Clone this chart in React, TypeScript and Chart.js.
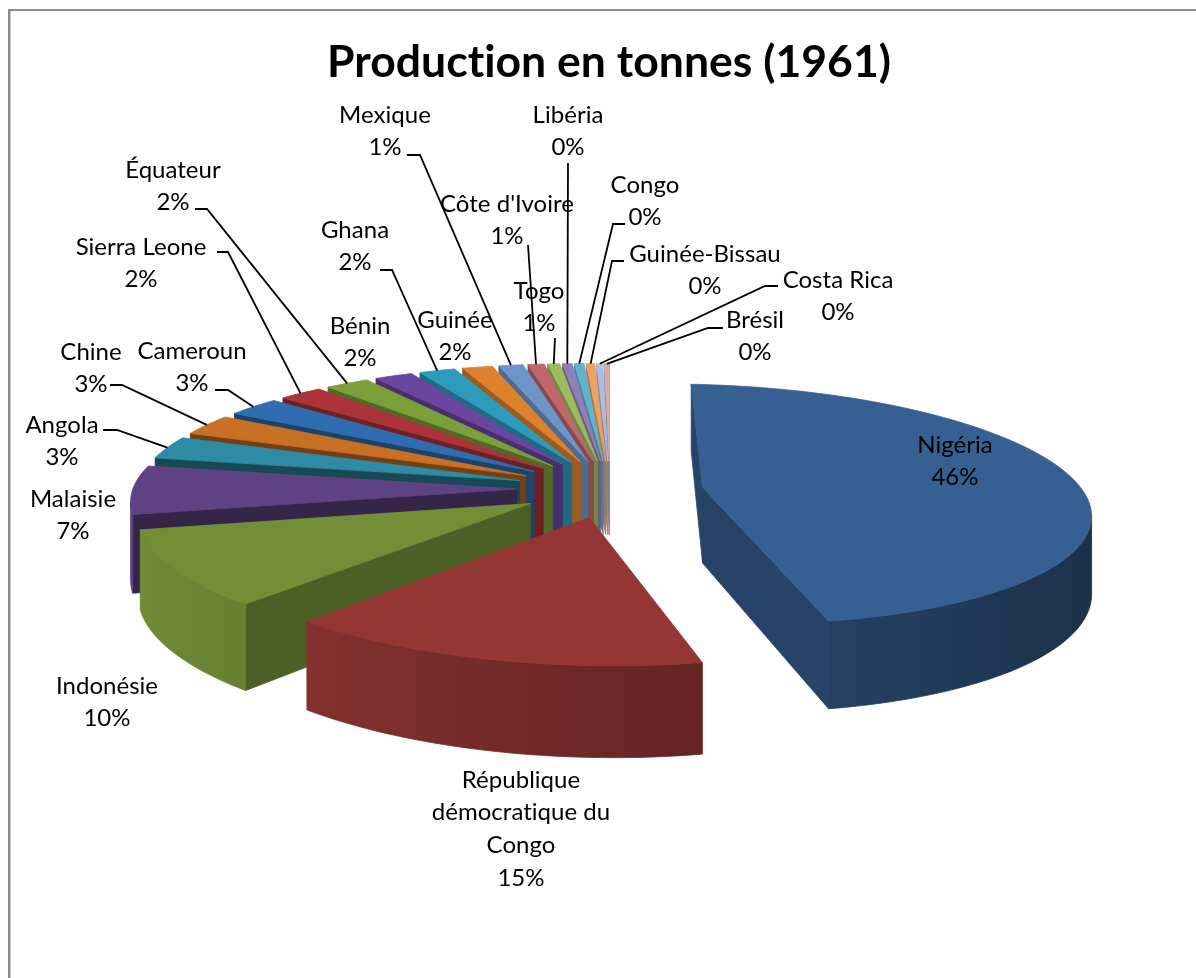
import React, { useEffect, useRef } from "react";
import { Chart, registerables } from "chart.js";

Chart.register(...registerables);

const titleText = "Production en tonnes (1961)";
const categories = ["Nigéria","République démocratique du Congo","Indonésie","Malaisie","Angola","Chine","Cameroun","Sierra Leone","Équateur","Bénin","Ghana","Guinée","Mexique","Côte d'Ivoire","Togo","Libéria","Congo","Guinée-Bissau","Costa Rica","Brésil"];
const shares = [45.8,14.9,9.7,6.5,3.1,2.9,2.7,2.2,2.2,1.9,1.8,1.5,1.2,0.8,0.6,0.47,0.47,0.42,0.3,0.25];
const percentText = ["46%","15%","10%","7%","3%","3%","3%","2%","2%","2%","2%","2%","1%","1%","1%","0%","0%","0%","0%","0%"];
const sliceColors = ["#376092","#933634","#728F38","#5F4283","#2F8AA3","#C87023","#2F6DB0","#AB3339","#7BA03A","#6A469F","#2C9BBC","#DE812C","#6E95C8","#C0676C","#9DBB5E","#8F80B8","#5FB4CC","#F0A060","#A8BFE0","#DBA8A8"];

// label layout in page pixels
const labelLines: string[][] = [["Nigéria"],["République","démocratique du","Congo"],["Indonésie"],["Malaisie"],["Angola"],["Chine"],["Cameroun"],["Sierra Leone"],["Équateur"],["Bénin"],["Ghana"],["Guinée"],["Mexique"],["Côte d'Ivoire"],["Togo"],["Libéria"],["Congo"],["Guinée-Bissau"],["Costa Rica"],["Brésil"]];
const labelAnchors: number[][] = [[955,445],[521,780],[107,686],[73,499],[62,425],[91,352],[192,351],[141,247],[173,170],[360,326],[355,230],[455,320],[385,115],[507,204],[539,291],[568,115],[645,185],[705,254],[838,280],[755,320]];
const leaderElbows: (number[][] | null)[] = [null,null,null,null,
  [[103,430],[117,430]],[[110,385],[122,385]],[[215,390],[228,390]],[[217,252],[228,252]],[[195,209],[207,209]],null,
  [[380,270],[392,270]],null,[[407,155],[420,155]],[[528,245]],[[555,338]],[[568,163]],
  [[625,224],[613,224]],[[624,261],[612,261]],[[778,286],[765,286]],[[723,328],[708,328]]];

// view of the pie plane
const CX = 610, CY = 489, RX = 382, RY = 118, PERSP = 0.14, SIDE = 0.005, SHEAR = 8, DEPTH = 76, EXPLODE = 0.245;

const project = (u: number, v: number, z: number) => {
  const s = 1 / (1 - PERSP * v - SIDE * u);
  return [CX + RX * u * s, CY + (RY * v + DEPTH * z + SHEAR * u) * s];
};

const shade = (hex: string, f: number) => {
  const n = parseInt(hex.slice(1), 16);
  const c = [(n >> 16) & 255, (n >> 8) & 255, n & 255].map((x) => Math.round(Math.min(255, x * f)));
  return `rgb(${c[0]},${c[1]},${c[2]})`;
};

const fillPoly = (ctx: CanvasRenderingContext2D, pts: number[][], color: string | CanvasGradient) => {
  ctx.beginPath();
  pts.forEach((p, i) => (i ? ctx.lineTo(p[0], p[1]) : ctx.moveTo(p[0], p[1])));
  ctx.closePath();
  ctx.fillStyle = color;
  ctx.strokeStyle = color;
  ctx.lineWidth = 0.8;
  ctx.fill();
  ctx.stroke();
};

const area = (p: number[][]) => {
  let a = 0;
  for (let i = 0; i < p.length; i++) {
    const q = p[(i + 1) % p.length];
    a += p[i][0] * q[1] - q[0] * p[i][1];
  }
  return a / 2;
};

const pie3d = {
  id: "pie3d",
  beforeDraw(chart: any) {
    const ctx = chart.ctx;
    (ctx as any).letterSpacing = "0.02px";
    ctx.save();
    ctx.fillStyle = "#8c8c8c";
    ctx.fillRect(8, 9, 2.5, 969);
    ctx.fillRect(8, 9, 1188, 2);
    ctx.restore();
  },
  beforeDatasetDraw() {
    return false;
  },
  afterDatasetsDraw(chart: any) {
    const ctx: CanvasRenderingContext2D = chart.ctx;
    const arcs = chart.getDatasetMeta(0).data;
    const slices = arcs.map((arc: any, i: number) => {
      const a0 = arc.startAngle + Math.PI / 2;
      const a1 = arc.endAngle + Math.PI / 2;
      const mid = (a0 + a1) / 2;
      return { i, a0, a1, mid, ou: Math.sin(mid) * EXPLODE, ov: -Math.cos(mid) * EXPLODE };
    });
    const order = [...slices].sort((a, b) => a.ov - b.ov);
    ctx.save();
    for (const s of order) {
      const col = sliceColors[s.i];
      const n = Math.max(2, Math.ceil((s.a1 - s.a0) / 0.025));
      const rim: number[][] = [];
      for (let k = 0; k <= n; k++) {
        const a = s.a0 + ((s.a1 - s.a0) * k) / n;
        rim.push([s.ou + Math.sin(a), s.ov - Math.cos(a)]);
      }
      const apex = [s.ou, s.ov];
      const quadOf = (a: number[], b: number[]) => [project(a[0], a[1], 0), project(b[0], b[1], 0), project(b[0], b[1], 1), project(a[0], a[1], 1)];
      const radial = (a: number[], b: number[]) => {
        const quad = quadOf(a, b);
        if (area(quad) >= 0) return;
        const nu = (b[1] - a[1]) / (Math.hypot(b[0] - a[0], b[1] - a[1]) || 1);
        fillPoly(ctx, quad, shade(col, 0.5 + 0.22 * Math.abs(nu)));
      };
      radial(rim[rim.length - 1], apex);
      radial(apex, rim[0]);

      // the curved wall: runs of viewer-facing segments, one smooth gradient per run
      let run: { p: number[]; f: number }[] = [];
      const flush = () => {
        if (run.length > 1) {
          const tops = run.map((r) => project(r.p[0], r.p[1], 0));
          const bots = run.map((r) => project(r.p[0], r.p[1], 1));
          const x0 = tops[0][0], x1 = tops[tops.length - 1][0];
          const g = ctx.createLinearGradient(x0, 0, x1, 0);
          run.forEach((r, idx) => {
            const t = Math.abs(x1 - x0) < 1e-6 ? idx / (run.length - 1) : (tops[idx][0] - x0) / (x1 - x0);
            g.addColorStop(Math.max(0, Math.min(1, t)), shade(col, r.f));
          });
          fillPoly(ctx, [...tops, ...bots.reverse()], g);
        }
        run = [];
      };
      for (let k = 0; k < n; k++) {
        const a = rim[k], b = rim[k + 1];
        if (area(quadOf(a, b)) < 0) {
          const nu = (b[1] - a[1]) / (Math.hypot(b[0] - a[0], b[1] - a[1]) || 1);
          const f = 0.74 - 0.25 * nu;
          if (!run.length) run.push({ p: a, f });
          run.push({ p: b, f });
        } else flush();
      }
      flush();

      const top = [apex, ...rim].map((p) => project(p[0], p[1], 0));
      fillPoly(ctx, top, col);
    }

    // leaders and labels
    ctx.strokeStyle = "#000";
    ctx.lineWidth = 1.8;
    slices.forEach((s: any) => {
      const elbows = leaderElbows[s.i];
      if (!elbows) return;
      const end = project(s.ou + Math.sin(s.mid), s.ov - Math.cos(s.mid), 0);
      ctx.beginPath();
      elbows.forEach((p, i) => (i ? ctx.lineTo(p[0], p[1]) : ctx.moveTo(p[0], p[1])));
      ctx.lineTo(end[0], end[1]);
      ctx.stroke();
    });
    ctx.fillStyle = "#000";
    ctx.font = "24px Lato";
    ctx.textAlign = "center";
    ctx.textBaseline = "middle";
    labelLines.forEach((lines, i) => {
      const [x, y0] = labelAnchors[i];
      const all = [...lines, percentText[i]];
      all.forEach((t, k) => ctx.fillText(t, x, y0 + k * 32.7));
    });
    ctx.restore();
  },
};

export default function App() {
  const ref = useRef<HTMLCanvasElement>(null);
  useEffect(() => {
    const chart = new Chart(ref.current!, {
      type: "pie",
      data: {
        labels: categories,
        datasets: [{ data: shares, backgroundColor: sliceColors, borderWidth: 0 }],
      },
      options: {
        responsive: false,
        animation: false,
        layout: { padding: { left: 22, top: 36 } },
        plugins: {
          legend: { display: false },
          tooltip: { enabled: false },
          title: {
            display: true,
            text: titleText,
            color: "#000",
            font: { family: "Lato", size: 44.5, weight: "bold" },
            padding: { top: 0, bottom: 10 },
          },
        },
      },
      plugins: [pie3d],
    } as any);
    return () => chart.destroy();
  }, []);
  return (
    <div style={{ position: "fixed", left: 0, top: 0, width: 1196, height: 978, background: "#fff" }}>
      <canvas ref={ref} width={1196} height={978} style={{ display: "block" }} />
    </div>
  );
}
